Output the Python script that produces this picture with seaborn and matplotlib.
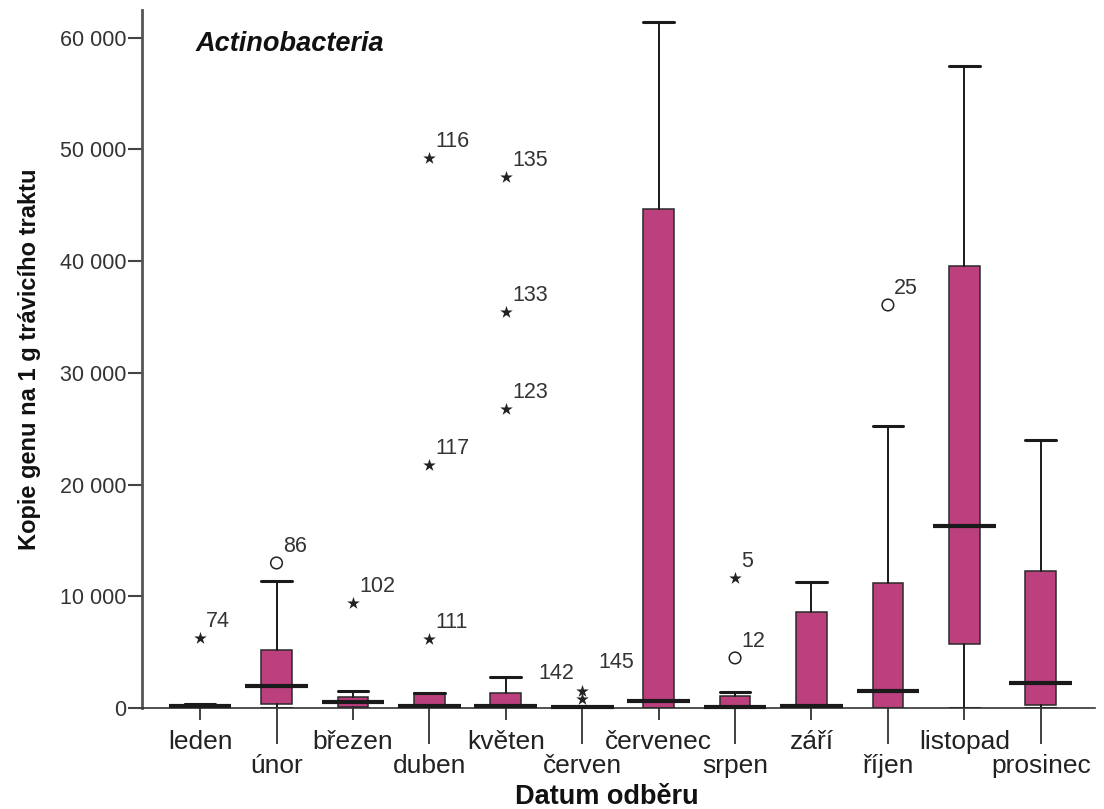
import numpy as np
import pandas as pd
import matplotlib
matplotlib.use("Agg")
import matplotlib.pyplot as plt
import seaborn as sns

# ---------------- data ----------------
months = ["leden", "únor", "březen", "duben", "květen", "červen",
          "červenec", "srpen", "září", "říjen", "listopad", "prosinec"]
q1 = [30, 360, 100, 0, 0, 0, 0, 0, 0, 0, 5720, 270]
median = [180, 1970, 540, 150, 150, 80, 620, 90, 150, 1520, 16280, 2240]
q3 = [400, 5190, 985, 1340, 1340, 100, 44670, 1070, 8590, 11180, 39570, 12250]
whisker_low = [0, 0, 0, 0, 0, 0, 0, 0, 0, 0, 0, 0]
whisker_high = [400, 11370, 1520, 1340, 2770, 100, 61400, 1430, 11270, 25220, 57480, 23970]

outlier_month = [0, 1, 2, 3, 3, 3, 4, 4, 4, 5, 5, 7, 7, 9]
outlier_value = [6300, 12980, 9400, 6180, 21750, 49230, 26760, 35440, 47520,
                 800, 1520, 11640, 4480, 36070]
outlier_label = ["74", "86", "102", "111", "117", "116", "123", "133", "135",
                 "142", "145", "5", "12", "25"]
outlier_kind = ["extreme", "outlier", "extreme", "extreme", "extreme", "extreme",
                "extreme", "extreme", "extreme", "extreme", "extreme", "extreme",
                "outlier", "outlier"]

ytick_values = [0, 10000, 20000, 30000, 40000, 50000, 60000]
ytick_labels = ["0", "10 000", "20 000", "30 000", "40 000", "50 000", "60 000"]

title_text = "Actinobacteria"
xlabel_text = "Datum odběru"
ylabel_text = "Kopie genu na 1 g trávicího traktu"

# ---------------- style ----------------
sns.set_style("ticks")
plt.rcParams["font.family"] = ["Liberation Sans", "DejaVu Sans"]

box_color = "#BC3F7E"
dark = "#1a1a1a"

fig = plt.figure(figsize=(11.04, 8.09), dpi=100)
ax = fig.add_axes([142 / 1104, 101 / 809, 953 / 1104, 698 / 809])

positions = np.arange(len(months))
stats = []
for i, m in enumerate(months):
    stats.append(dict(label=m, med=median[i], q1=q1[i], q3=q3[i],
                      whislo=whisker_low[i], whishi=whisker_high[i], fliers=[]))

ax.bxp(stats, positions=positions, widths=0.4, capwidths=0.4,
       patch_artist=True, showfliers=False,
       boxprops=dict(facecolor=box_color, edgecolor="#2a2a2a", linewidth=1.1),
       whiskerprops=dict(color=dark, linewidth=1.4),
       capprops=dict(color=dark, linewidth=2.2),
       medianprops=dict(linewidth=0))

# median lines (wider than the box, SPSS style)
ax.hlines(median, positions - 0.41, positions + 0.41, colors=dark,
          linewidth=3.0, zorder=5, clip_on=False)

# outliers
df = pd.DataFrame({"pos": outlier_month, "value": outlier_value,
                   "label": outlier_label, "kind": outlier_kind})
ext = df[df["kind"] == "extreme"]
out = df[df["kind"] == "outlier"]
sns.scatterplot(x=ext["pos"].to_numpy(), y=ext["value"].to_numpy(), ax=ax,
                marker="*", color="#222222", s=90, linewidth=0, zorder=6)
ax.scatter(out["pos"], out["value"], marker="o", facecolors="none",
           edgecolors="#222222", s=70, linewidths=1.1, zorder=6)

special_offsets = {"142": (-6, 11, "right"), "145": (12, 13, "left")}
for _, r in df.iterrows():
    dx, dy, ha = special_offsets.get(r["label"], (4.5, 4.0, "left"))
    ax.annotate(r["label"], (r["pos"], r["value"]), xytext=(dx, dy),
                textcoords="offset points", ha=ha, va="bottom",
                fontsize=15.5, color="#333333")

# axes
ax.set_xlim(-0.76, 11.71)
ax.set_ylim(0, 62470)
ax.set_yticks(ytick_values, labels=ytick_labels)

even = positions[0::2]
odd = positions[1::2]
ax.set_xticks(even, labels=months[0::2])
ax.set_xticks(odd, labels=months[1::2], minor=True)
ax.tick_params(axis="x", which="major", length=8.5, width=1.3, color="#333333",
               pad=7, labelsize=19, labelcolor="#222222")
ax.tick_params(axis="x", which="minor", length=26, width=1.3, color="#333333",
               pad=7, labelsize=19, labelcolor="#222222")
ax.tick_params(axis="y", length=10, width=1.5, color="#444444", pad=1,
               labelsize=15.5, labelcolor="#333333")

for s in ["top", "right"]:
    ax.spines[s].set_visible(False)
ax.spines["left"].set_color("#555555")
ax.spines["left"].set_linewidth(2.0)
ax.spines["bottom"].set_color("#333333")
ax.spines["bottom"].set_linewidth(1.2)

ax.set_ylabel(ylabel_text, fontsize=17, fontweight="bold", color="#111111")
ax.yaxis.set_label_coords(-0.106, 0.5)
ax.set_xlabel(xlabel_text, fontsize=19.5, fontweight="bold", color="#111111")
ax.xaxis.set_label_coords(0.488, -0.109)

ax.text(0.0567, 0.951, title_text, transform=ax.transAxes, fontsize=19.5,
        fontweight="bold", fontstyle="italic", va="center", ha="left",
        color="#111111")

fig.savefig("out.png", dpi=100)
